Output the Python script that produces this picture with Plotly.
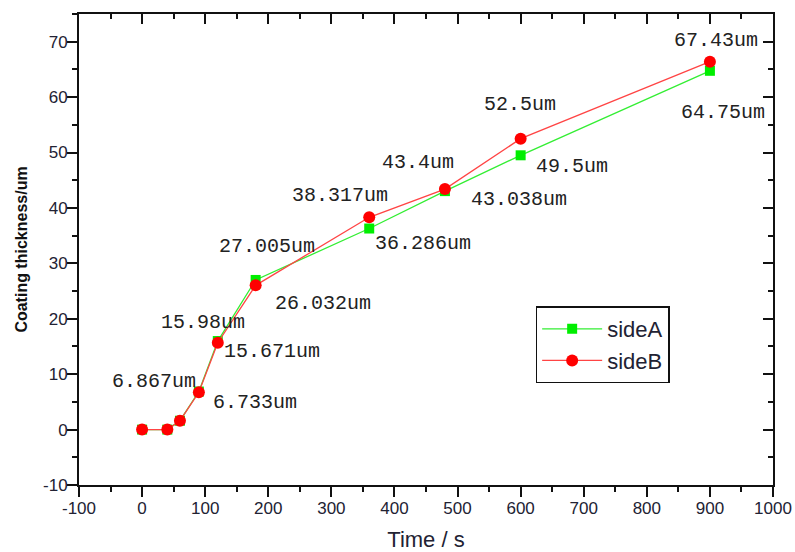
import plotly.graph_objects as go

# ---- data ----
time_s = [0, 40, 60, 90, 120, 180, 360, 480, 600, 900]
sideA = [0, 0, 1.6, 6.867, 15.98, 27.005, 36.286, 43.038, 49.5, 64.75]
sideB = [0, 0, 1.6, 6.733, 15.671, 26.032, 38.317, 43.4, 52.5, 66.4]

# labelled points (index into arrays) and their label texts
labA_idx = [3, 4, 5, 6, 7, 8, 9]
labA_text = ["6.867um", "15.98um", "27.005um", "36.286um", "43.038um", "49.5um", "64.75um"]
labB_idx = [3, 4, 5, 6, 7, 8, 9]
labB_text = ["6.733um", "15.671um", "26.032um", "38.317um", "43.4um", "52.5um", "67.43um"]

x_ticks = [-100, 0, 100, 200, 300, 400, 500, 600, 700, 800, 900, 1000]
y_ticks = [-10, 0, 10, 20, 30, 40, 50, 60, 70]

# ---- styling / placement ----
labA_shift = [(-45, 10), (-15, 19), (11, 33), (54, -15), (74, -8), (51, -11), (13, -42)]
labB_shift = [(56, -10), (54, -9), (67, -18), (-29, 22), (-27, 27), (-1, 34), (6, 21)]

GREEN = "#00ee00"
RED = "#ff0000"
XR = [-100, 1000]
YR = [-10, 75]

fig = go.Figure()
fig.add_trace(go.Scatter(
    x=time_s, y=sideA, name="sideA", mode="lines+markers",
    line=dict(color="#33ee33", width=1.3),
    marker=dict(symbol="square", size=10, color=GREEN),
))
fig.add_trace(go.Scatter(
    x=time_s, y=sideB, name="sideB", mode="lines+markers",
    line=dict(color="#ff4444", width=1.3),
    marker=dict(symbol="circle", size=12, color=RED),
))
# invisible trace to activate mirrored top/right axes (inside ticks)
fig.add_trace(go.Scatter(
    x=time_s, y=sideA, xaxis="x2", yaxis="y2", mode="markers",
    marker=dict(opacity=0), showlegend=False, hoverinfo="skip",
))

ann_font = dict(family="Liberation Mono, DejaVu Sans Mono, monospace", size=20, color="#222222")
for idx, txt, (dx, dy) in zip(labA_idx, labA_text, labA_shift):
    fig.add_annotation(x=time_s[idx], y=sideA[idx], text=txt, showarrow=False,
                       xshift=dx, yshift=dy, font=ann_font)
for idx, txt, (dx, dy) in zip(labB_idx, labB_text, labB_shift):
    fig.add_annotation(x=time_s[idx], y=sideB[idx], text=txt, showarrow=False,
                       xshift=dx, yshift=dy, font=ann_font)

tick_font = dict(family="Liberation Sans, Arial, sans-serif", size=17, color="#222233")
axis_common = dict(showgrid=False, zeroline=False, showline=True, linecolor="#111111",
                   linewidth=2, automargin=False)

fig.update_layout(
    width=795, height=552,
    paper_bgcolor="white", plot_bgcolor="white",
    margin=dict(l=79, r=22, t=14, b=67, autoexpand=False),
    xaxis=dict(range=XR, tickvals=x_ticks, ticktext=[str(v) for v in x_ticks],
               ticks="outside", ticklen=10, tickwidth=1.5, tickcolor="#111111",
               minor=dict(ticks="outside", ticklen=5, dtick=50, tick0=0, tickcolor="#111111", tickwidth=1.5),
               tickfont=tick_font, ticklabelstandoff=-3,
               title=dict(text="Time / s", font=dict(family="Liberation Sans, Arial, sans-serif", size=22, color="#222233"),
                          standoff=16),
               **axis_common),
    yaxis=dict(range=YR, tickvals=y_ticks, ticktext=[str(v) for v in y_ticks],
               ticks="outside", ticklen=10, tickwidth=1.5, tickcolor="#111111",
               minor=dict(ticks="outside", ticklen=5, dtick=5, tick0=0, tickcolor="#111111", tickwidth=1.5),
               tickfont=tick_font, ticklabelstandoff=-4,
               title=dict(text="<b>Coating thickness/um</b>", font=dict(family="Liberation Sans, Arial, sans-serif", size=16, color="#111111"),
                          standoff=11),
               **axis_common),
    xaxis2=dict(range=XR, overlaying="x", side="top", anchor="y2", tickvals=x_ticks,
                showticklabels=False, ticks="inside", ticklen=10, tickwidth=1.5, tickcolor="#111111",
                minor=dict(ticks="inside", ticklen=5, dtick=50, tick0=0, tickcolor="#111111", tickwidth=1.5),
                **axis_common),
    yaxis2=dict(range=YR, overlaying="y", side="right", anchor="x2", tickvals=y_ticks,
                showticklabels=False, ticks="inside", ticklen=10, tickwidth=1.5, tickcolor="#111111",
                minor=dict(ticks="inside", ticklen=5, dtick=5, tick0=0, tickcolor="#111111", tickwidth=1.5),
                **axis_common),
    legend=dict(x=0.658, y=0.379, xanchor="left", yanchor="top",
                bgcolor="white", bordercolor="#111111", borderwidth=1.5,
                font=dict(family="Liberation Sans, Arial, sans-serif", size=22, color="#222233"),
                tracegroupgap=0, itemwidth=60),
    showlegend=True,
)

fig.write_html("out.html", config={"displayModeBar": False},
               post_script="document.body.style.margin='0';")
